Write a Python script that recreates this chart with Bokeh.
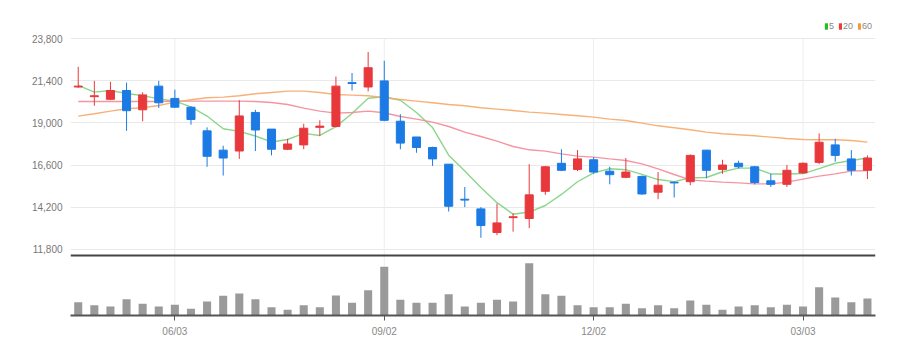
from bokeh.plotting import figure
from bokeh.models import (Range1d, FixedTicker, Span, Legend, LegendItem,
                          ColumnDataSource, NumeralTickFormatter)
from bokeh.embed import file_html
from bokeh.resources import INLINE

# ---------------- data (weekly candles) ----------------
opens = [21050, 20500, 20350, 20850, 19750, 21100, 20400, 19900, 18550, 17450,
         17400, 19600, 18650, 17500, 17750, 18750, 18800, 21300, 21050, 21400,
         19100, 18200, 17600, 16650, 14650, 14100, 12750, 13600, 13550, 15100,
         16700, 16350, 16900, 16250, 15900, 15950, 15050, 15620, 15650, 17450,
         16350, 16700, 16500, 15700, 15500, 16150, 16750, 17750, 16950, 16300]
closes = [21100, 20550, 20850, 19700, 20600, 20150, 19900, 19200, 17100, 17000,
          19400, 18600, 17500, 17800, 18700, 18820, 21100, 21250, 22150, 19150,
          17850, 17600, 16950, 14250, 14600, 13150, 13300, 13650, 14900, 16500,
          16300, 16950, 16200, 16050, 16200, 14950, 15450, 15580, 17150, 16300,
          16600, 16500, 15600, 15500, 16300, 16700, 17900, 17150, 16300, 17000]
highs = [22200, 21400, 21350, 21300, 20750, 21400, 20900, 19950, 18750, 17700,
         20300, 19750, 18650, 18100, 18950, 19150, 21650, 21850, 23050, 22550,
         19500, 18200, 17650, 16650, 15350, 14200, 14400, 13850, 16650, 16550,
         17500, 17450, 17050, 16500, 17000, 16000, 16200, 15650, 17200, 17450,
         16900, 16850, 16550, 16100, 16600, 16750, 18400, 18100, 17450, 17150]
lows = [21000, 19980, 20300, 18550, 19100, 19850, 19850, 18900, 16500, 16000,
        16950, 17400, 17150, 17450, 17500, 18250, 18750, 20850, 20800, 19100,
        17500, 17300, 16550, 13950, 14200, 12450, 12600, 12800, 13000, 14900,
        16250, 16250, 16100, 15500, 15850, 14900, 14650, 14750, 15450, 15850,
        16100, 16400, 15500, 15350, 15350, 16100, 16650, 16800, 16000, 15800]
volumes = [400, 310, 270, 490, 350, 270, 320, 200, 420, 590,
           660, 490, 250, 170, 310, 250, 600, 380, 760, 1460,
           470, 380, 380, 640, 270, 380, 470, 420, 1570, 640,
           590, 310, 250, 250, 350, 220, 310, 220, 450, 320,
           170, 270, 310, 250, 320, 270, 850, 540, 400, 510]

ma5 = [21140, 20760, 20850, 20680, 20557, 20371, 20241, 19914, 19393, 18670,
       18518, 18255, 17917, 18057, 18404, 18286, 18792, 19541, 20408, 20492,
       20298, 19598, 18735, 17164, 16257, 15314, 14454, 13797, 13919, 14293,
       14924, 15647, 16152, 16388, 16335, 16068, 15772, 15655, 15875, 15890,
       16218, 16423, 16426, 16091, 16091, 16114, 16395, 16700, 16859, 17004]
ma20 = [20226, 20226, 20226, 20226, 20226, 20226, 20245, 20245, 20245, 20245,
        20245, 20226, 20169, 20055, 19845, 19674, 19560, 19598, 19674, 19579,
        19370, 19218, 19047, 18800, 18476, 18229, 17962, 17658, 17468, 17392,
        17240, 17107, 17050, 16954, 16859, 16669, 16384, 16060, 15756, 15680,
        15623, 15585, 15528, 15528, 15623, 15794, 15965, 16099, 16251, 16289]
ma60 = [19389, 19522, 19674, 19807, 19864, 19998, 20188, 20321, 20435, 20473,
        20549, 20663, 20739, 20815, 20815, 20739, 20625, 20587, 20549, 20435,
        20340, 20245, 20150, 20055, 19979, 19864, 19788, 19712, 19617, 19560,
        19484, 19408, 19332, 19218, 19142, 18990, 18837, 18723, 18609, 18476,
        18381, 18324, 18267, 18191, 18115, 18058, 18039, 18039, 18001, 17905]

price_ticks = [11800, 14200, 16600, 19000, 21400, 23800]
date_tick_idx = [6, 19, 32, 45]
date_tick_labels = ["06/03", "09/02", "12/02", "03/03"]
ma_labels = ["5", "20", "60"]

# ---------------- styling ----------------
RED = "#e8383c"
BLUE = "#1c7ae4"
MA_COLORS = ["#7ed27e", "#f48a98", "#f5a96a"]
LEGEND_COLORS = ["#22c022", "#f03a3a", "#f59a3a"]
FONT = "Liberation Sans"

PRICE_RANGE = (8019, 25984)
VOL_RANGE = (0, 9450)
VOL_PANEL_TOP = 1800

x = list(range(len(opens)))
colors = [RED if c >= o else BLUE for o, c in zip(opens, closes)]
src = ColumnDataSource(dict(x=x, o=opens, c=closes, h=highs, l=lows,
                            color=colors, vol=volumes,
                            ma5=ma5, ma20=ma20, ma60=ma60))

p = figure(width=920, height=354, output_backend="svg", toolbar_location=None,
           x_range=Range1d(-0.48, len(x) - 0.5),
           y_range=Range1d(*PRICE_RANGE),
           min_border_left=70, min_border_right=45,
           min_border_top=0, min_border_bottom=39)
p.extra_y_ranges = {"vol": Range1d(*VOL_RANGE)}
p.outline_line_color = None
p.background_fill_color = "white"
p.border_fill_color = "white"

# grids
p.xgrid.visible = False
p.ygrid.ticker = FixedTicker(ticks=price_ticks)
p.ygrid.grid_line_color = "#e9e9e9"
p.segment(x0=date_tick_idx, x1=date_tick_idx,
          y0=[PRICE_RANGE[0]] * len(date_tick_idx),
          y1=[price_ticks[-1]] * len(date_tick_idx),
          line_color="#ededed", line_width=1)

# volume bars
p.vbar(x="x", width=0.5, top="vol", bottom=0, y_range_name="vol",
       fill_color="#9a9a9a", line_color=None, source=src)

# moving averages
for col, c in zip(["ma5", "ma20", "ma60"], MA_COLORS):
    p.line("x", col, source=src, line_color=c, line_width=1.4, line_alpha=0.9)

# candles
p.segment(x0="x", x1="x", y0="l", y1="h", line_color="color",
          line_width=1, source=src)
p.vbar(x="x", width=0.5, top="o", bottom="c", fill_color="color",
       line_color="color", line_width=1, source=src)

# separator line between price & volume
p.add_layout(Span(location=VOL_PANEL_TOP, dimension="width", y_range_name="vol",
                  line_color="#444444", line_width=2))

# axes
ya = p.yaxis[0]
ya.ticker = FixedTicker(ticks=price_ticks)
ya.formatter = NumeralTickFormatter(format="0,0")
ya.axis_line_color = None
ya.major_tick_line_color = None
ya.minor_tick_line_color = None
ya.major_label_standoff = 2
ya.major_label_text_font = FONT
ya.major_label_text_font_size = "10px"
ya.major_label_text_color = "#777777"

xa = p.xaxis[0]
xa.ticker = FixedTicker(ticks=date_tick_idx)
xa.major_label_overrides = {i: l for i, l in zip(date_tick_idx, date_tick_labels)}
xa.axis_line_color = "#555555"
xa.axis_line_width = 2
xa.major_tick_line_color = "#555555"
xa.major_tick_out = 5
xa.major_tick_in = 0
xa.minor_tick_line_color = None
xa.major_label_standoff = 5
xa.major_label_text_font = FONT
xa.major_label_text_font_size = "10px"
xa.major_label_text_color = "#888888"

# legend (swatch-only renderers; NaN keeps them off the plot)
items = []
for lbl, c in zip(ma_labels, LEGEND_COLORS):
    r = p.quad(left=[float("nan")], right=[float("nan")],
               top=[float("nan")], bottom=[float("nan")],
               fill_color=c, line_color=None)
    items.append(LegendItem(label=lbl, renderers=[r]))
legend = Legend(items=items, orientation="horizontal", location=(754, 284),
                glyph_width=4, glyph_height=8, label_standoff=1, spacing=4,
                padding=0, margin=0, border_line_color=None,
                background_fill_alpha=0, label_text_font=FONT,
                label_text_font_size="9px", label_text_color="#888888",
                label_height=8, label_width=0)
p.add_layout(legend)

open("out.html", "w").write(file_html(p, INLINE))
